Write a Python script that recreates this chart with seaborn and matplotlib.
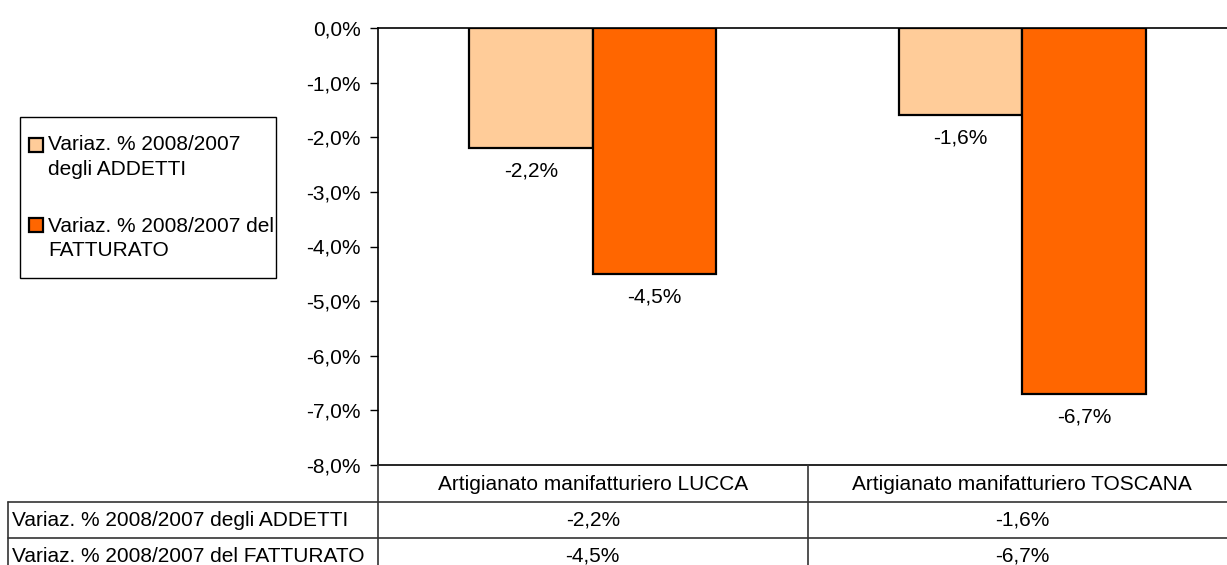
import matplotlib
matplotlib.use("Agg")
import matplotlib.pyplot as plt
import matplotlib.transforms as mtransforms
from matplotlib.lines import Line2D
from matplotlib.patches import Rectangle
import seaborn as sns
import pandas as pd

# ---- data ----
categories = ["Artigianato manifatturiero LUCCA", "Artigianato manifatturiero TOSCANA"]
series_names = ["Variaz. % 2008/2007 degli ADDETTI", "Variaz. % 2008/2007 del FATTURATO"]
legend_labels = ["Variaz. % 2008/2007\ndegli ADDETTI", "Variaz. % 2008/2007 del\nFATTURATO"]
addetti = [-2.2, -1.6]
fatturato = [-4.5, -6.7]
yticks = [0, -1, -2, -3, -4, -5, -6, -7, -8]

colors = ["#FFCC99", "#FF6600"]

sns.set_theme(style="white")
plt.rcParams["font.family"] = ["Liberation Sans", "DejaVu Sans"]
plt.rcParams["text.color"] = "black"
plt.rcParams["ytick.color"] = "black"
plt.rcParams["ytick.labelcolor"] = "black"

FS = 15

def fmt(v):
    return f"{v:.1f}%".replace(".", ",")

df = pd.DataFrame({
    "cat": categories * 2,
    "serie": [series_names[0]] * 2 + [series_names[1]] * 2,
    "val": addetti + fatturato,
})

W, H = 1227, 565
fig = plt.figure(figsize=(W / 100, H / 100), dpi=100)
fig.patch.set_facecolor("white")

fy = lambda py: 1 - py / H
fx = lambda px: px / W

ax_l, ax_r, ax_t, ax_b = 378, 1237, 28, 465
ax = fig.add_axes([fx(ax_l), fy(ax_b), (ax_r - ax_l) / W, (ax_b - ax_t) / H])

sns.barplot(data=df, x="cat", y="val", hue="serie", order=categories,
            hue_order=series_names, palette=colors, width=0.574,
            edgecolor="black", linewidth=1.6, saturation=1, ax=ax, legend=False)

ax.set_ylim(-8, 0)
ax.set_xlim(-0.5, 1.5)
ax.set_yticks(yticks)
ax.set_yticklabels([fmt(v) for v in yticks], fontsize=FS)
ax.set_xticks([])
ax.set_xlabel("")
ax.set_ylabel("")
ax.tick_params(axis="y", direction="out", length=6, width=1, color="black", pad=6.5, left=True)
for s in ["left", "top", "bottom", "right"]:
    ax.spines[s].set_color("black")
    ax.spines[s].set_linewidth(1.2)

# data labels
for container, vals in zip(ax.containers, [addetti, fatturato]):
    for bar, v in zip(container, vals):
        cx = bar.get_x() + bar.get_width() / 2
        ax.annotate(fmt(v), (cx, v), xytext=(0, -16.5),
                    textcoords="offset points", ha="center", va="center", fontsize=FS,
                    color="black")

# legend (drawn as a boxed key)
fig.add_artist(Rectangle((fx(20), fy(278)), fx(276) - fx(20), fy(117) - fy(278),
                         transform=fig.transFigure, facecolor="white",
                         edgecolor="black", linewidth=1.0))
for i, (lab, c) in enumerate(zip(legend_labels, colors)):
    top = 138 + i * 80
    fig.add_artist(Rectangle((fx(29), fy(top + 14)), 14 / W, 14 / H,
                             transform=fig.transFigure, facecolor=c,
                             edgecolor="black", linewidth=1.6))
    l1, l2 = lab.split("\n")
    fig.text(fx(48), fy(145 + i * 81), l1, ha="left", va="center", fontsize=FS)
    fig.text(fx(48), fy(169 + i * 81), l2, ha="left", va="center", fontsize=FS)

# data table under the chart
trans = mtransforms.blended_transform_factory(ax.transData, fig.transFigure)
lc = "#333333"
for py in [502, 538]:
    fig.add_artist(Line2D([fx(8), 1], [fy(py), fy(py)], color=lc, lw=1.2))
fig.add_artist(Line2D([fx(8), fx(8)], [fy(502), 0], color=lc, lw=1.2))
fig.add_artist(Line2D([fx(378), fx(378)], [fy(465), 0], color=lc, lw=1.2))
fig.add_artist(Line2D([0.5, 0.5], [fy(465), 0], color=lc, lw=1.2, transform=trans))

for i, c in enumerate(categories):
    fig.text(i, fy(484), c, transform=trans, ha="center", va="center", fontsize=FS)
    fig.text(i, fy(520), fmt(addetti[i]), transform=trans,
             ha="center", va="center", fontsize=FS)
    fig.text(i, fy(556), fmt(fatturato[i]), transform=trans,
             ha="center", va="center", fontsize=FS)
fig.text(fx(12), fy(520), series_names[0], ha="left", va="center", fontsize=FS)
fig.text(fx(12), fy(556), series_names[1], ha="left", va="center", fontsize=FS)

fig.savefig("out.png", dpi=100, facecolor="white")
